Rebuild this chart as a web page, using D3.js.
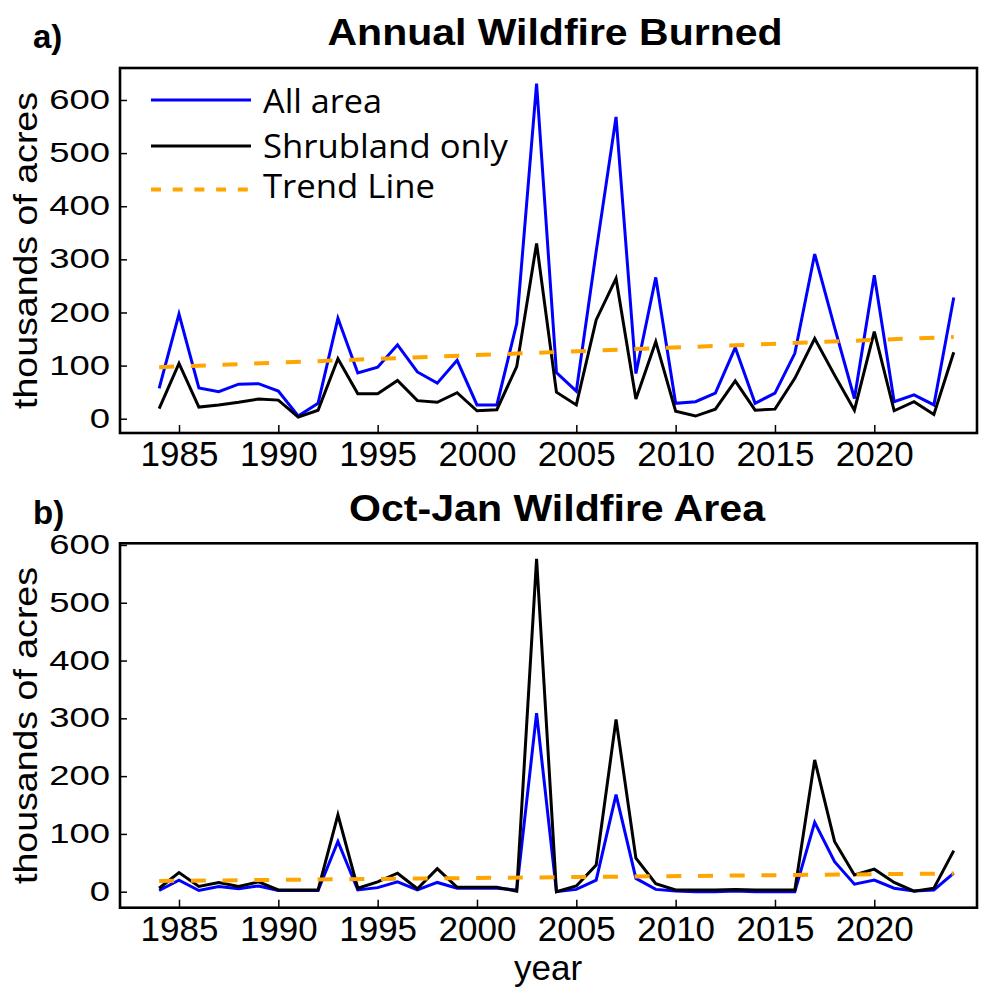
<!DOCTYPE html>
<html><head><meta charset="utf-8">
<script src="https://cdn.jsdelivr.net/npm/d3@7"></script>
<style>body{margin:0;background:#fff} svg{display:block}</style>
</head><body><svg id="c" width="1006" height="1001"></svg>
<script>
// ---------- data ----------
const years = [1984,1985,1986,1987,1988,1989,1990,1991,1992,1993,1994,1995,1996,1997,1998,1999,
  2000,2001,2002,2003,2004,2005,2006,2007,2008,2009,2010,2011,2012,2013,2014,2015,2016,2017,2018,2019,
  2020,2021,2022,2023,2024];
const annualAll   = [57,197,58,51,65,66,52,5,29,189,86,97,139,88,67,110,26,26,179,631,87,52,315,568,85,266,29,32,48,134,29,48,123,310,172,38,270,32,45,26,228];
const annualShrub = [19,104,22,26,31,37,35,3,16,113,47,47,72,34,31,49,15,17,98,330,50,26,186,264,37,145,14,5,18,71,16,18,76,151,82,16,164,15,32,8,125];
const octAll      = [2,20,2,9,5,10,2,2,2,87,3,7,17,3,16,6,6,6,3,309,0,4,20,168,23,4,1,0,0,1,0,0,0,120,52,13,20,6,1,3,32];
const octShrub    = [6,33,9,16,9,17,3,3,3,133,6,17,32,5,40,7.5,7.5,7.5,1,576,0,10,46,298,58,14,3,3,3,4,3,3,3,228,87,29,39,16,1,6,71];
const trendYears  = [1984, 2024];
const annualTrend = [97, 154];
const octTrend    = [18.5, 31.5];
const yTicks = [0,100,200,300,400,500,600];
const xTicks = [1985,1990,1995,2000,2005,2010,2015,2020];
const seriesNames = ["All area","Shrubland only","Trend Line"];

// ---------- layout ----------
const svg = d3.select("#c");
const SANS = "'Liberation Sans', Arial, sans-serif";
const COL_ALL = "#0000ff", COL_SHR = "#000000", COL_TR = "#ffa500";
const xDomain = [1982.03, 2025.17];

function panel(cfg){
  const x = d3.scaleLinear().domain(xDomain).range([cfg.left, cfg.right]);
  const y = d3.scaleLinear().domain(cfg.yDomain).range([cfg.bottom, cfg.top]);
  const g = svg.append("g");

  // title & panel letter
  g.append("text").attr("x", cfg.titleX).attr("y", cfg.titleY)
    .attr("text-anchor","middle").style("font-family",SANS).style("font-weight","bold")
    .style("font-size","36px").attr("textLength", cfg.titleLen).attr("lengthAdjust","spacingAndGlyphs")
    .text(cfg.title);
  g.append("text").attr("x", cfg.letterX).attr("y", cfg.titleY+3)
    .style("font-family",SANS).style("font-weight","bold").style("font-size","33px")
    .text(cfg.letter);

  // axes
  const ax = g.append("g").attr("transform",`translate(0,${cfg.bottom})`)
    .call(d3.axisBottom(x).tickValues(xTicks).tickFormat(d3.format("d")).tickSizeInner(-8).tickSizeOuter(0).tickPadding(8));
  ax.select(".domain").remove();
  ax.selectAll(".tick line").attr("stroke","#000").attr("stroke-width",1.5);
  ax.selectAll(".tick text").style("font-family",SANS).style("font-size","35px").attr("fill","#000");

  const ay = g.append("g").attr("transform",`translate(${cfg.left},0)`)
    .call(d3.axisLeft(y).tickValues(yTicks).tickSizeInner(-7).tickSizeOuter(0));
  ay.select(".domain").remove();
  ay.selectAll(".tick line").attr("stroke","#000").attr("stroke-width",1.5);
  ay.selectAll(".tick text").style("font-family",SANS).style("font-size","27px").attr("fill","#000")
    .attr("x", -10/1.35).attr("transform","scale(1.35,1)");

  // y title
  g.append("text").attr("transform",`translate(${cfg.yTitleX},${(cfg.top+cfg.bottom)/2}) rotate(-90)`)
    .attr("text-anchor","middle").style("font-family",SANS).style("font-size","34px")
    .attr("textLength",317).attr("lengthAdjust","spacingAndGlyphs")
    .text("thousands of acres");

  // lines
  const line = d3.line().x(d=>x(d[0])).y(d=>y(d[1]));
  const lp = g.append("g");
  lp.append("path").datum(years.map((yr,i)=>[yr,cfg.all[i]])).attr("d",line)
    .attr("fill","none").attr("stroke",COL_ALL).attr("stroke-width",3);
  lp.append("path").datum(years.map((yr,i)=>[yr,cfg.shrub[i]])).attr("d",line)
    .attr("fill","none").attr("stroke",COL_SHR).attr("stroke-width",3);
  lp.append("path").datum(trendYears.map((yr,i)=>[yr,cfg.trend[i]])).attr("d",line)
    .attr("fill","none").attr("stroke",COL_TR).attr("stroke-width",4).attr("stroke-dasharray","15,16.7");

  // frame
  g.append("rect").attr("x",cfg.left).attr("y",cfg.top)
    .attr("width",cfg.right-cfg.left).attr("height",cfg.bottom-cfg.top)
    .attr("fill","none").attr("stroke","#000").attr("stroke-width",2.6);

  return {g,x,y};
}

panel({left:120,right:977,top:68,bottom:433,yDomain:[-26.9,660.2],
  all:annualAll,shrub:annualShrub,trend:annualTrend,
  title:"Annual Wildfire Burned",titleX:555,titleY:45,titleLen:455,letter:"a)",letterX:33,yTitleX:37});
panel({left:120,right:977,top:543.3,bottom:907.7,yDomain:[-27.7,602.9],
  all:octAll,shrub:octShrub,trend:octTrend,
  title:"Oct-Jan Wildfire Area",titleX:557,titleY:521,titleLen:416,letter:"b)",letterX:33,yTitleX:37});

// x title
svg.append("text").attr("x",548).attr("y",980).attr("text-anchor","middle")
  .style("font-family",SANS).style("font-size","35px").text("year");

// legend (top panel)
const LEG = "'Open Sans', 'Liberation Sans', sans-serif";
const legCol = [COL_ALL, COL_SHR, COL_TR];
const legLineY = [100, 146, 189.5];
const legTextY = [113, 158, 198];
const legLen = [119, 245, 172];
const lg = svg.append("g");
seriesNames.forEach((n,i)=>{
  lg.append("line").attr("x1",151).attr("x2",251).attr("y1",legLineY[i]).attr("y2",legLineY[i])
    .attr("stroke",legCol[i]).attr("stroke-width", i===2?4:3)
    .attr("stroke-dasharray", i===2?"10,11.7":null);
  lg.append("text").attr("x",263).attr("y",legTextY[i]).style("font-family",LEG).style("font-size","32px")
    .attr("textLength",legLen[i]).attr("lengthAdjust","spacingAndGlyphs").text(n);
});
</script></body></html>
